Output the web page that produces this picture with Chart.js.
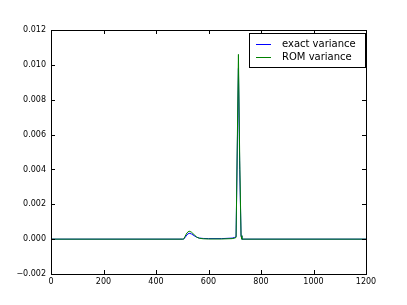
<!DOCTYPE html>
<html>
<head>
<meta charset="utf-8">
<script src="https://cdn.jsdelivr.net/npm/chart.js@4/dist/chart.umd.min.js"></script>
<style>
  html, body { margin: 0; padding: 0; background: #fff; }
  #wrap { width: 407px; height: 305px; }
</style>
</head>
<body>
<div id="wrap"><canvas id="chart" width="407" height="305"></canvas></div>
<script>
const xValues = [0, 500, 505, 510, 518, 526, 535, 545, 555, 565, 580, 600, 650, 690, 700, 705, 714, 719, 724, 727, 1200];
const exactVariance = [0, 0, 0, 0.00008, 0.00025, 0.00034, 0.0003, 0.0002, 0.00011, 0.00006, 0.00004, 0.00003, 0.00003, 0.00006, 0.0001, 0.00014, 0.0098, 0.004, 0.0002, 0, 0];
const romVariance = [0, 0, 0, 0.00014, 0.00036, 0.00046, 0.0004, 0.00026, 0.00012, 0.00005, 0.00002, 0.00001, 0.00001, 0.00003, 0.00006, 0.0001, 0.0106, 0.0045, 0.0002, 0, 0];
const seriesNames = ['exact variance', 'ROM variance'];
const xTicks = [0, 200, 400, 600, 800, 1000, 1200];
const yTicks = [-0.002, 0, 0.002, 0.004, 0.006, 0.008, 0.01, 0.012];

const font = 'DejaVu Sans';

function points(ys) {
    return xValues.map((x, i) => ({ x: x, y: ys[i] }));
}

// matplotlib-style frame, inward ticks and legend box
const framePlugin = {
    id: 'frame',
    afterDraw(chart) {
        const ctx = chart.ctx;
        const a = chart.chartArea;
        const xs = chart.scales.x, ys = chart.scales.y;
        ctx.save();
        ctx.strokeStyle = '#000';
        ctx.lineWidth = 1;
        ctx.strokeRect(Math.round(a.left) + 0.5, Math.round(a.top) + 0.5,
            Math.round(a.right - a.left), Math.round(a.bottom - a.top));
        ctx.beginPath();
        for (const t of xTicks) {
            const px = Math.round(xs.getPixelForValue(t)) + 0.5;
            ctx.moveTo(px, a.bottom); ctx.lineTo(px, a.bottom - 4);
            ctx.moveTo(px, a.top); ctx.lineTo(px, a.top + 4);
        }
        for (const t of yTicks) {
            const py = Math.round(ys.getPixelForValue(t)) + 0.5;
            ctx.moveTo(a.left, py); ctx.lineTo(a.left + 4, py);
            ctx.moveTo(a.right, py); ctx.lineTo(a.right - 4, py);
        }
        ctx.stroke();

        // legend
        const bx = 249.5, by = 33.5, bw = 116, bh = 34;
        ctx.fillStyle = '#fff';
        ctx.fillRect(bx, by, bw, bh);
        ctx.strokeRect(bx, by, bw, bh);
        const colors = ['#0000ff', '#008000'];
        ctx.font = '10px "' + font + '"';
        ctx.textBaseline = 'middle';
        seriesNames.forEach((name, i) => {
            const y = 44.5 + i * 13;
            ctx.strokeStyle = colors[i];
            ctx.beginPath();
            ctx.moveTo(256, y); ctx.lineTo(271, y);
            ctx.stroke();
            ctx.fillStyle = '#000';
            ctx.fillText(name, 282, y);
        });
        ctx.restore();
    }
};

new Chart(document.getElementById('chart'), {
    type: 'line',
    data: {
        datasets: [{
            label: seriesNames[0],
            data: points(exactVariance),
            borderColor: '#0000ff',
            borderWidth: 1,
            pointRadius: 0,
            tension: 0,
            order: 2
        }, {
            label: seriesNames[1],
            data: points(romVariance),
            borderColor: '#008000',
            borderWidth: 1,
            pointRadius: 0,
            tension: 0,
            order: 1
        }]
    },
    options: {
        responsive: false,
        animation: false,
        events: [],
        layout: { padding: { top: 30, right: 41, left: 0, bottom: 0 } },
        plugins: {
            legend: { display: false },
            tooltip: { enabled: false }
        },
        scales: {
            x: {
                type: 'linear',
                min: 0,
                max: 1200,
                afterBuildTicks: s => { s.ticks = xTicks.map(v => ({ value: v })); },
                afterFit: s => { s.height = 31; },
                grid: { display: false, drawTicks: false, tickLength: 0 },
                border: { display: false },
                ticks: {
                    padding: 3,
                    maxRotation: 0,
                    color: '#000',
                    font: { family: font, size: 8 },
                    callback: v => String(v)
                }
            },
            y: {
                min: -0.002,
                max: 0.012,
                afterBuildTicks: s => { s.ticks = yTicks.map(v => ({ value: v })); },
                afterFit: s => { s.width = 51; },
                grid: { display: false, drawTicks: false, tickLength: 0 },
                border: { display: false },
                ticks: {
                    padding: 5,
                    color: '#000',
                    font: { family: font, size: 8 },
                    callback: v => v.toFixed(3).replace('-', '\u2212')
                }
            }
        }
    },
    plugins: [framePlugin]
});
</script>
</body>
</html>
